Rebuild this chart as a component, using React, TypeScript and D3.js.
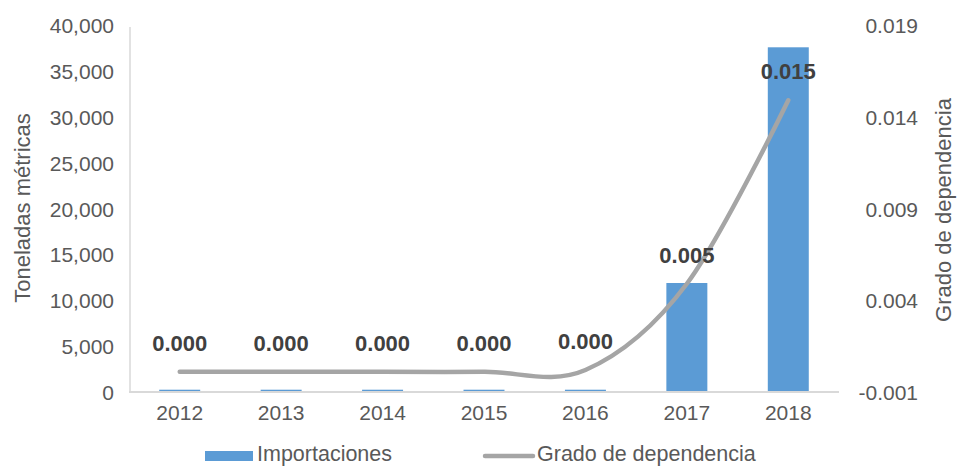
import React from "react";
import * as d3 from "d3";

const years = ["2012", "2013", "2014", "2015", "2016", "2017", "2018"];
const importaciones = [250, 250, 250, 250, 250, 11880, 37570];
const grado = [0.0001, 0.0001, 0.0001, 0.0001, 0.0002, 0.0049, 0.0149];
const gradoLabels = ["0.000", "0.000", "0.000", "0.000", "0.000", "0.005", "0.015"];
const leftTicks = [0, 5000, 10000, 15000, 20000, 25000, 30000, 35000, 40000];
const rightTicks = [-0.001, 0.004, 0.009, 0.014, 0.019];

const W = 958;
const H = 466;
const plot = { left: 129, right: 839, top: 25, bottom: 392 };
const FONT = "'Liberation Sans', Arial, Helvetica, sans-serif";
const TXT = "#595959";

export default function App() {
  const x = d3
    .scaleBand<string>()
    .domain(years)
    .range([plot.left, plot.right])
    .paddingInner(0.596)
    .paddingOuter(0.298);
  const yL = d3.scaleLinear().domain([0, 40000]).range([plot.bottom, plot.top]);
  const yR = d3.scaleLinear().domain([-0.001, 0.019]).range([plot.bottom, plot.top]);
  const cx = (y: string) => (x(y) as number) + x.bandwidth() / 2;

  const line = d3
    .line<number>()
    .x((_, i) => cx(years[i]))
    .y((d) => yR(d))
    .curve(d3.curveCardinal.tension(0));

  const fmt = d3.format(",");
  const fmtR = (t: number) => d3.format(".3f")(t).replace("\u2212", "-");

  return (
    <svg width={W} height={H} style={{ position: "absolute", left: 0, top: 0 }} fontFamily={FONT}>
      <rect x={0} y={0} width={W} height={H} fill="#fff" />
      {/* axes */}
      <line x1={plot.left + 1} x2={plot.left + 1} y1={plot.top + 2} y2={plot.bottom} stroke="#D9D9D9" strokeWidth={1.5} />
      <line x1={plot.left} x2={plot.right} y1={plot.bottom} y2={plot.bottom} stroke="#D9D9D9" strokeWidth={2} />
      {/* bars */}
      {importaciones.map((v, i) => (
        <rect
          key={years[i]}
          x={x(years[i])}
          y={yL(v)}
          width={x.bandwidth()}
          height={plot.bottom - 1 - yL(v)}
          fill="#5B9BD5"
        />
      ))}
      {/* line */}
      <path d={line(grado) || ""} fill="none" stroke="#A5A5A5" strokeWidth={4.5} strokeLinecap="round" />
      {/* data labels */}
      {grado.map((v, i) => (
        <text
          key={"l" + i}
          x={cx(years[i])}
          y={yR(v) - 21}
          textAnchor="middle"
          fontSize={22}
          fontWeight="bold"
          fill="#404040"
        >
          {gradoLabels[i]}
        </text>
      ))}
      {/* left ticks */}
      {leftTicks.map((t) => (
        <text key={"lt" + t} x={114} y={yL(t) + 8} textAnchor="end" fontSize={21} fill={TXT}>
          {fmt(t)}
        </text>
      ))}
      {/* right ticks */}
      {rightTicks.map((t) => (
        <text key={"rt" + t} x={918} y={yR(t) + 8} textAnchor="end" fontSize={21} fill={TXT}>
          {fmtR(t)}
        </text>
      ))}
      {/* x labels */}
      {years.map((y) => (
        <text key={"x" + y} x={cx(y)} y={420} textAnchor="middle" fontSize={21} fill={TXT}>
          {y}
        </text>
      ))}
      {/* axis titles */}
      <text transform={`translate(30,208) rotate(-90)`} textAnchor="middle" fontSize={22} fill={TXT}>
        Toneladas métricas
      </text>
      <text transform={`translate(951,210) rotate(-90)`} textAnchor="middle" fontSize={22} fill={TXT}>
        Grado de dependencia
      </text>
      {/* legend */}
      <rect x={205} y={451} width={48} height={10} fill="#5B9BD5" />
      <text x={257} y={461} fontSize={21.5} fill={TXT}>
        Importaciones
      </text>
      <line x1={485} x2={533} y1={456} y2={456} stroke="#A5A5A5" strokeWidth={4.5} strokeLinecap="round" />
      <text x={537} y={461} fontSize={21.5} fill={TXT}>
        Grado de dependencia
      </text>
    </svg>
  );
}
